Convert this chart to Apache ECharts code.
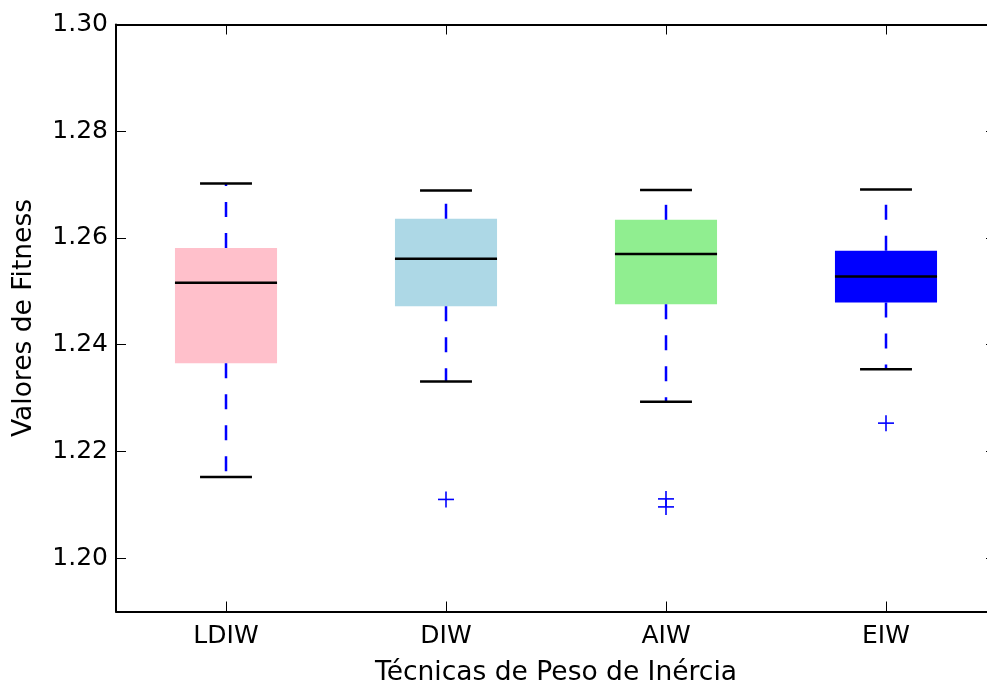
<!DOCTYPE html>
<html>
<head>
<meta charset="utf-8">
<script src="https://cdn.jsdelivr.net/npm/echarts@6/dist/echarts.min.js"></script>
<style>
  html, body { margin: 0; padding: 0; background: #fff; }
  #chart { width: 987px; height: 684px; }
</style>
</head>
<body>
<div id="chart"></div>
<script>
// valores
const categories = ['LDIW', 'DIW', 'AIW', 'EIW'];
const lowWhisker = [1.2152, 1.2331, 1.2293, 1.2354];
const q1 = [1.2365, 1.2472, 1.2476, 1.2479];
const medians = [1.2516, 1.2561, 1.2570, 1.2528];
const q3 = [1.2581, 1.2636, 1.2634, 1.2576];
const highWhisker = [1.2702, 1.2689, 1.2690, 1.2691];
const boxColors = ['#ffc0cb', '#add8e6', '#90ee90', '#0000ff'];
// [índice da categoria, valor]
const outliers = [[1, 1.2110], [2, 1.2111], [2, 1.2096], [3, 1.2253]];
const yTicks = [1.20, 1.22, 1.24, 1.26, 1.28, 1.30];

const font = 'DejaVu Sans';

const boxData = categories.map((c, i) =>
  [i, lowWhisker[i], q1[i], medians[i], q3[i], highWhisker[i]]);

function renderBox(params, api) {
  const i = api.value(0);
  const band = api.size([1, 0])[0];
  const bw = band * 0.464;
  const cw = band * 0.236;
  const x = api.coord([i, api.value(3)])[0];
  const yLow = api.coord([i, api.value(1)])[1];
  const yQ1 = api.coord([i, api.value(2)])[1];
  const yMed = api.coord([i, api.value(3)])[1];
  const yQ3 = api.coord([i, api.value(4)])[1];
  const yHigh = api.coord([i, api.value(5)])[1];
  const whisker = { stroke: '#0000ff', lineWidth: 2.5, lineDash: [15, 16] };
  const black = { stroke: '#000', lineWidth: 2.5 };
  return {
    type: 'group',
    children: [
      { type: 'rect', shape: { x: x - bw / 2, y: yQ3, width: bw, height: yQ1 - yQ3 },
        style: { fill: boxColors[i] } },
      { type: 'line', shape: { x1: x, y1: yQ3, x2: x, y2: yHigh }, style: whisker },
      { type: 'line', shape: { x1: x, y1: yQ1, x2: x, y2: yLow }, style: whisker },
      { type: 'line', shape: { x1: x - cw / 2, y1: yHigh, x2: x + cw / 2, y2: yHigh }, style: black },
      { type: 'line', shape: { x1: x - cw / 2, y1: yLow, x2: x + cw / 2, y2: yLow }, style: black },
      { type: 'line', shape: { x1: x - bw / 2, y1: yMed, x2: x + bw / 2, y2: yMed }, style: black }
    ]
  };
}

function renderPlus(params, api) {
  const p = api.coord([api.value(0), api.value(1)]);
  const h = 8;
  const st = { stroke: '#0000ff', lineWidth: 1.6 };
  return {
    type: 'group',
    children: [
      { type: 'line', shape: { x1: p[0] - h, y1: p[1], x2: p[0] + h, y2: p[1] }, style: st },
      { type: 'line', shape: { x1: p[0], y1: p[1] - h, x2: p[0], y2: p[1] + h }, style: st }
    ]
  };
}

const axisLine = { show: true, lineStyle: { color: '#000', width: 2 } };
const tick = { show: true, inside: true, length: 10, lineStyle: { color: '#000', width: 1 } };

const chart = echarts.init(document.getElementById('chart'));
chart.setOption({
  animation: false,
  grid: { left: 116, top: 24.5, width: 880, height: 587, outerBoundsMode: 'none' },
  xAxis: [
    {
      type: 'category',
      data: categories,
      position: 'bottom',
      axisLine: axisLine,
      axisTick: Object.assign({ alignWithLabel: true }, tick),
      axisLabel: { fontSize: 25, color: '#000', fontFamily: font, margin: 12 },
      name: 'Técnicas de Peso de Inércia',
      nameLocation: 'middle',
      nameGap: 48,
      nameTextStyle: { fontSize: 26.5, color: '#000', fontFamily: font }
    },
    {
      type: 'category',
      data: categories,
      position: 'top',
      axisLine: axisLine,
      axisTick: Object.assign({ alignWithLabel: true }, tick),
      axisLabel: { show: false }
    }
  ],
  yAxis: [
    {
      type: 'value',
      min: 1.19,
      max: 1.30,
      position: 'left',
      splitLine: { show: false },
      axisLine: axisLine,
      axisTick: Object.assign({ customValues: yTicks }, tick),
      axisLabel: {
        customValues: yTicks,
        formatter: v => v.toFixed(2),
        fontSize: 25, color: '#000', fontFamily: font, margin: 8
      },
      name: 'Valores de Fitness',
      nameLocation: 'middle',
      nameGap: 78,
      nameTextStyle: { fontSize: 26.5, color: '#000', fontFamily: font }
    },
    {
      type: 'value',
      min: 1.19,
      max: 1.30,
      position: 'right',
      splitLine: { show: false },
      axisLine: axisLine,
      axisTick: Object.assign({ customValues: yTicks }, tick),
      axisLabel: { show: false }
    }
  ],
  series: [
    {
      type: 'custom',
      renderItem: renderBox,
      data: boxData,
      encode: { x: 0, y: [1, 2, 3, 4, 5] },
      z: 2
    },
    {
      type: 'custom',
      renderItem: renderPlus,
      data: outliers,
      encode: { x: 0, y: 1 },
      z: 3
    }
  ]
});
</script>
</body>
</html>
